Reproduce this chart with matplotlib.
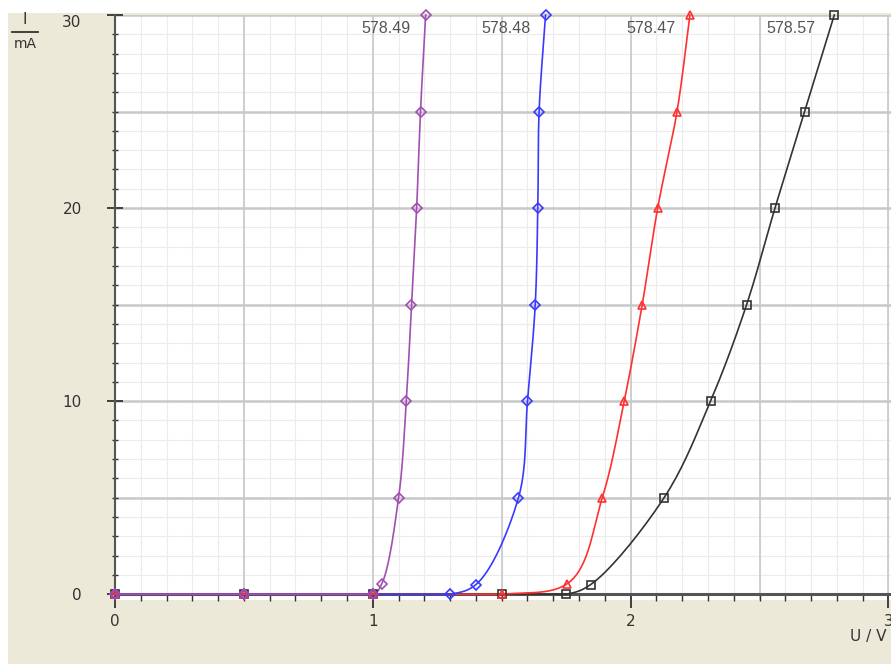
import matplotlib
matplotlib.use("Agg")
import matplotlib.pyplot as plt
import numpy as np
from matplotlib.patches import Rectangle
from matplotlib.ticker import MultipleLocator, FixedLocator

# Data (U in V, I in mA)
u_49 = [0.0, 0.5, 1.0, 1.035, 1.10, 1.13, 1.15, 1.17, 1.185, 1.205]
i_49 = [0.0, 0.0, 0.0, 0.55, 5, 10, 15, 20, 25, 30]
u_48 = [0.0, 0.5, 1.0, 1.30, 1.40, 1.565, 1.60, 1.63, 1.64, 1.645, 1.67]
i_48 = [0.0, 0.0, 0.0, 0.0, 0.5, 5, 10, 15, 20, 25, 30]
u_47 = [0.0, 0.5, 1.0, 1.5, 1.755, 1.89, 1.975, 2.045, 2.105, 2.18, 2.23]
i_47 = [0.0, 0.0, 0.0, 0.0, 0.55, 5, 10, 15, 20, 25, 30]
u_57 = [0.0, 0.5, 1.0, 1.5, 1.75, 1.845, 2.13, 2.31, 2.45, 2.56, 2.675, 2.79]
i_57 = [0.0, 0.0, 0.0, 0.0, 0.0, 0.5, 5, 10, 15, 20, 25, 30]

labels = ["578.49", "578.48", "578.47", "578.57"]
label_x = [1.145, 1.612, 2.176, 2.716]


def smooth(u, i, n=20, alpha=0.5):
    """Centripetal Catmull-Rom curve through the points (for drawing only)."""
    p = np.column_stack([np.asarray(u) / 3.0, np.asarray(i) / 30.0])
    p = np.vstack([2 * p[0] - p[1], p, 2 * p[-1] - p[-2]])
    out = []
    for k in range(1, len(p) - 2):
        p0, p1, p2, p3 = p[k - 1], p[k], p[k + 1], p[k + 2]
        t0 = 0.0
        t1 = t0 + max(np.linalg.norm(p1 - p0), 1e-9) ** alpha
        t2 = t1 + max(np.linalg.norm(p2 - p1), 1e-9) ** alpha
        t3 = t2 + max(np.linalg.norm(p3 - p2), 1e-9) ** alpha
        t = np.linspace(t1, t2, n)[:, None]
        a1 = (t1 - t) / (t1 - t0) * p0 + (t - t0) / (t1 - t0) * p1
        a2 = (t2 - t) / (t2 - t1) * p1 + (t - t1) / (t2 - t1) * p2
        a3 = (t3 - t) / (t3 - t2) * p2 + (t - t2) / (t3 - t2) * p3
        b1 = (t2 - t) / (t2 - t0) * a1 + (t - t0) / (t2 - t0) * a2
        b2 = (t3 - t) / (t3 - t1) * a2 + (t - t1) / (t3 - t1) * a3
        c = (t2 - t) / (t2 - t1) * b1 + (t - t1) / (t2 - t1) * b2
        out.append(c)
    c = np.vstack(out)
    c[:, 1] = np.maximum(c[:, 1], 0)
    return c[:, 0] * 3.0, c[:, 1] * 30.0


fig = plt.figure(figsize=(8.91, 6.64), dpi=100)
fig.patch.set_facecolor("white")
fig.patches.append(Rectangle((8/891, 0), 1, 1 - 13/664, transform=fig.transFigure,
                             facecolor="#ece9d8", edgecolor="none", zorder=-10))

ax = fig.add_axes([115/891, 64/664, 1 - 115/891, (664 - 64 - 15)/664])
ax.set_facecolor("white")
ax.set_xlim(0, 3.01)
ax.set_ylim(-0.3, 30)

ax.xaxis.set_major_locator(FixedLocator([0, 1, 2, 3]))
ax.xaxis.set_minor_locator(MultipleLocator(0.1))
ax.yaxis.set_major_locator(FixedLocator([0, 10, 20, 30]))
ax.yaxis.set_minor_locator(MultipleLocator(1))

# grids
for x in [k * 0.1 for k in range(31)]:
    ax.axvline(x, color="#ececec", lw=0.8, zorder=0)
for y in range(0, 31):
    ax.axhline(y, color="#ececec", lw=0.8, zorder=0)
for x in [0.5, 1.0, 1.5, 2.0, 2.5, 3.0]:
    ax.axvline(x, color="#c8c8c8", lw=1.2, zorder=0.5)
for y in [5, 10, 15, 20, 25, 30]:
    ax.axhline(y, color="#c8c8c8", lw=1.8, zorder=0.5)

series = [
    (u_57, i_57, "#333333", "s"),
    (u_47, i_47, "#ff3030", "^"),
    (u_48, i_48, "#3a3aff", "D"),
    (u_49, i_49, "#a050b0", "D"),
]
for u, i, c, m in series:
    su, si = smooth(u, i)
    ax.plot(su, si, color=c, lw=1.2, zorder=3, clip_on=False)
    ax.plot(u, i, linestyle="none", marker=m, ms=6 if m != "D" else 5,
            mfc="none", mec=c, mew=1.2, zorder=4, clip_on=False)

for t, x in zip(labels, label_x):
    ax.text(x, 29.3, t, ha="right", va="center", fontsize=11.5, color="#555555",
            family="Liberation Sans")

for s in ["top", "right"]:
    ax.spines[s].set_visible(False)
ax.spines["left"].set_color("#555555")
ax.spines["left"].set_linewidth(1.5)
ax.spines["bottom"].set_color("#555555")
ax.spines["bottom"].set_linewidth(2.2)
ax.spines["bottom"].set_position(("data", 0))
ax.spines["bottom"].set_zorder(2)

ax.tick_params(axis="x", which="major", direction="out", length=10, width=1.3,
               color="#333333", labelsize=11, pad=4, labelcolor="#333333")
ax.tick_params(axis="x", which="minor", direction="out", length=5, width=1,
               color="#333333")
ax.tick_params(axis="y", which="major", direction="inout", length=12, width=1.3,
               color="#333333", labelsize=11, pad=18, labelcolor="#333333")
ax.tick_params(axis="y", which="minor", direction="inout", length=5, width=1,
               color="#333333")
for lab in ax.get_yticklabels():
    if lab.get_text() == "30":
        lab.set_va("top")

fig.text(868/891, 1 - 636/664, "U / V", ha="center", va="center", fontsize=11, color="#333333")
fig.text(25/891, 1 - 20/664, "I", ha="center", va="center", fontsize=11, color="#333333")
fig.lines.append(plt.Line2D([12/891, 38/891], [1 - 32/664, 1 - 32/664],
                            transform=fig.transFigure, color="#333333", lw=1.3))
fig.text(25/891, 1 - 44/664, "mA", ha="center", va="center", fontsize=10, color="#333333")

fig.savefig("out.png", dpi=100, facecolor=fig.get_facecolor())
